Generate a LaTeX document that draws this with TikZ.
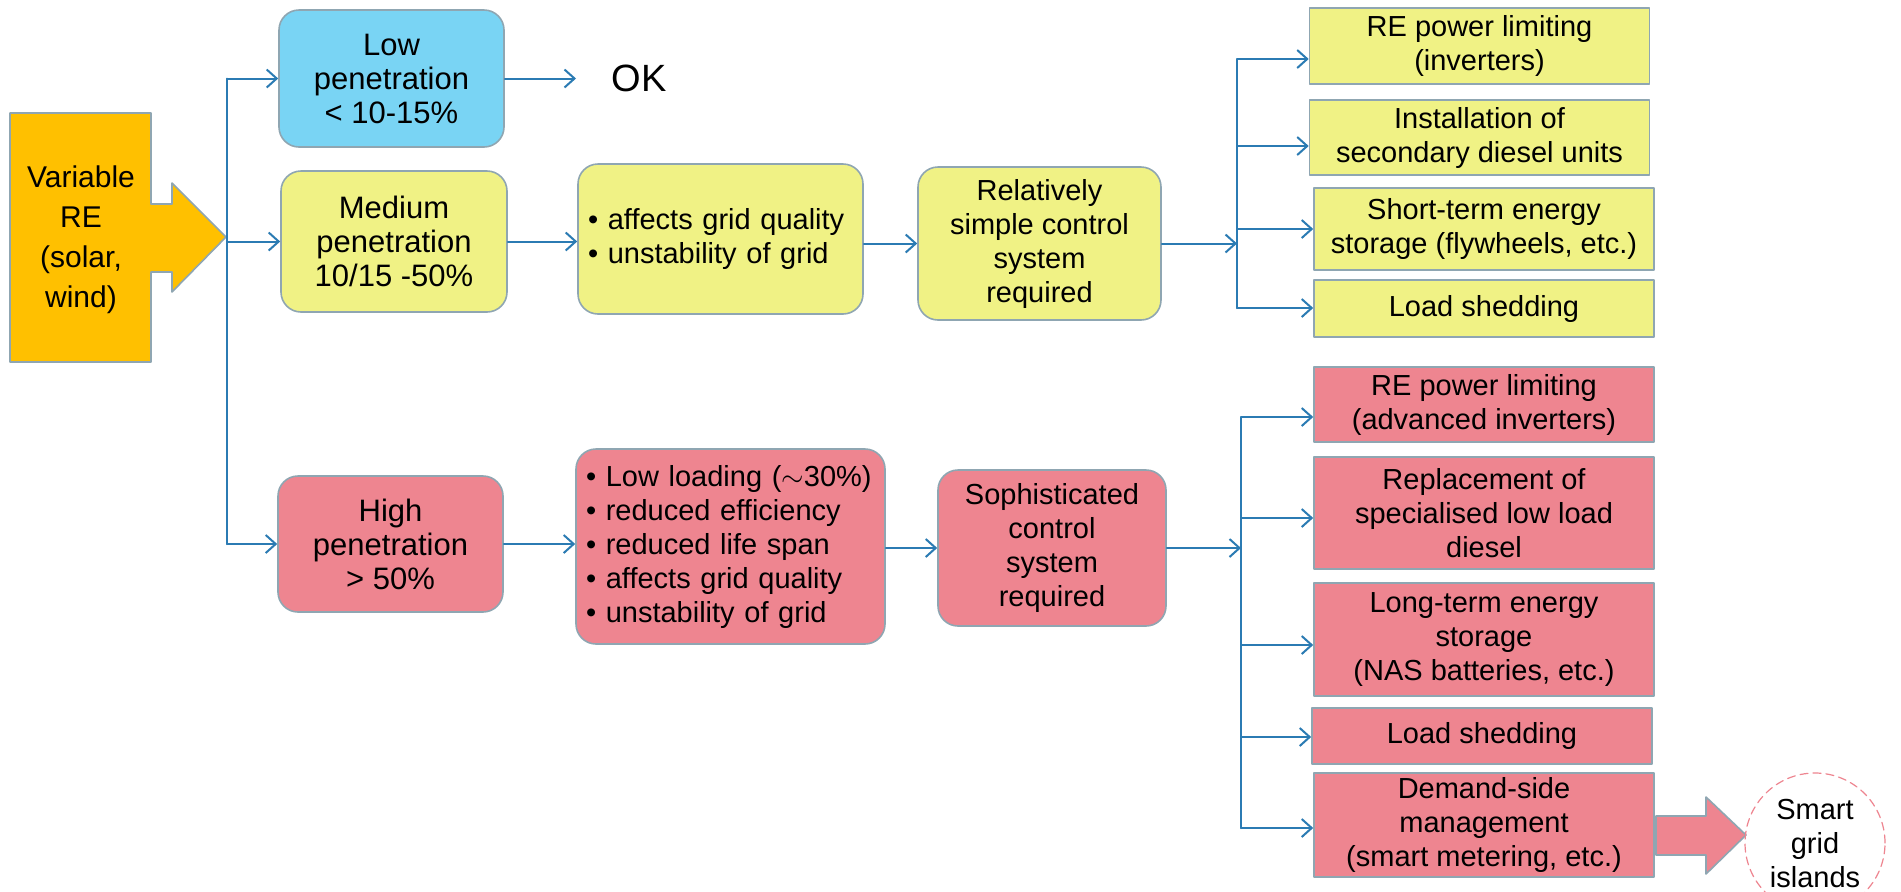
\documentclass[tikz,border=0pt]{standalone}
\usepackage{fontspec}
\setmainfont{Liberation Sans}
\usetikzlibrary{arrows.meta,shapes.geometric}
\definecolor{FlowBlue}{HTML}{2B7BB3}
\definecolor{EdgeGray}{HTML}{8FA6B2}
\definecolor{SrcOrange}{HTML}{FFC000}
\definecolor{LowBlue}{HTML}{79D4F4}
\definecolor{MedYellow}{HTML}{F0F285}
\definecolor{HighRed}{HTML}{EE8590}

\begin{document}
\begin{tikzpicture}[x=0.5pt,y=-0.5pt,line cap=round,line join=round,
  font=\fontsize{14.5}{17}\selectfont,
  conn/.style={FlowBlue,line width=1pt,-{Straight Barb[length=5pt,width=9pt]}},
  bus/.style={FlowBlue,line width=1pt},
  rbox/.style={draw=EdgeGray,line width=0.8pt,rounded corners=10pt,align=center,inner sep=2pt},
  pbox/.style={rbox,font=\fontsize{15.5}{17}\selectfont},
  fxbox/.style={rbox,align=left,inner xsep=5pt},
  sbox/.style={draw=EdgeGray,line width=0.8pt,align=center,inner sep=1pt,minimum width=170pt}]
  \fill[white] (0,0) rectangle (1901,891);
  \useasboundingbox (0,0) rectangle (1901,891);
  % source arrow
  \filldraw[fill=SrcOrange,draw=EdgeGray,line width=0.8pt] (10,113)--(151,113)--(151,204)--(172,204)--(172,183)
    --(226,237)--(172,292)--(172,272)--(151,272)--(151,362)--(10,362)--cycle;
  \node[align=center,font=\fontsize{15}{20}\selectfont] (src) at (81,240) {Variable\\RE\\(solar,\\wind)};
  % penetration levels
  \node[pbox,fill=LowBlue,minimum width=112.5pt,minimum height=68.5pt] (lowp) at (391.5,78.5) {Low\\penetration\\< 10-15\%};
  \node[pbox,fill=MedYellow,minimum width=113pt,minimum height=70.5pt] (medp) at (394,241.5) {Medium\\penetration\\10/15 -50\%};
  \node[pbox,fill=HighRed,minimum width=112.5pt,minimum height=68pt] (highp) at (390.5,544) {High\\penetration\\> 50\%};
  \node[font=\fontsize{19}{22}\selectfont] (ok) at (639,78) {OK};\coordinate (okin) at (576,78.5);
  % effects and control
  \node[fxbox,fill=MedYellow,text width=132.5pt,minimum height=75pt] (medfx) at (720.5,239) {• affects grid quality\\• unstability of grid};
  \node[rbox,fill=MedYellow,minimum width=121.5pt,minimum height=76.5pt] (medctl) at (1039.5,243.5) {Relatively\\simple control\\system\\required};
  \node[fxbox,fill=HighRed,text width=144.5pt,minimum height=97.5pt] (highfx) at (730.5,546.5)
    {• Low loading ($\sim$30\%)\\• reduced efficiency\\• reduced life span\\• affects grid quality\\• unstability of grid};
  \node[rbox,fill=HighRed,minimum width=114pt,minimum height=78pt] (highctl) at (1052,548) {Sophisticated\\control\\system\\required};
  % measures, medium
  \node[sbox,fill=MedYellow,minimum height=38pt] (ym1) at (1479.5,46) {RE power limiting\\(inverters)};
  \node[sbox,fill=MedYellow,minimum height=37.5pt] (ym2) at (1479.5,137.5) {Installation of\\secondary diesel units};
  \node[sbox,fill=MedYellow,minimum height=41pt] (ym3) at (1484,229) {Short-term energy\\storage (flywheels, etc.)};
  \node[sbox,fill=MedYellow,minimum height=28.5pt] (ym4) at (1484,308.5) {Load shedding};
  % measures, high
  \node[sbox,fill=HighRed,minimum height=37.5pt] (rm1) at (1484,404.5) {RE power limiting\\(advanced inverters)};
  \node[sbox,fill=HighRed,minimum height=56pt] (rm2) at (1484,513) {Replacement of\\specialised low load\\diesel};
  \node[sbox,fill=HighRed,minimum height=56.5pt] (rm3) at (1484,639.5) {Long-term energy\\storage\\(NAS batteries, etc.)};
  \node[sbox,fill=HighRed,minimum height=28pt] (rm4) at (1482,736) {Load shedding};
  \node[sbox,fill=HighRed,minimum height=52pt] (rm5) at (1484,825) {Demand-side\\management\\(smart metering, etc.)};
  \filldraw[fill=HighRed,draw=EdgeGray,line width=0.8pt] (1656,816)--(1706,816)--(1706,797)--(1746,835)
    --(1706,874)--(1706,855)--(1656,855)--cycle;
  \begin{scope}
    \clip (0,0) rectangle (1901,891);
    \node[draw=HighRed,dash pattern=on 4pt off 2.5pt,line width=0.6pt,circle,minimum size=70pt,
      align=center,inner sep=0pt] (smart) at (1815,843) {Smart\\grid\\islands};
  \end{scope}
  % connectors
  \coordinate (b1top) at (227,78.5);\coordinate (b1bot) at (227,544);\coordinate (srctip) at (227,241.5);
  \draw[bus] (b1top) -- (b1bot);
  \draw[conn] (b1top) -- (lowp.west);
  \draw[conn] (srctip) -- (medp.west);
  \draw[conn] (b1bot) -- (b1bot -| highp.west);
  \draw[conn] (lowp.east) -- (okin);
  \draw[conn] (medp.east) -- (medp.east -| medfx.west);
  \draw[conn] (medctl.west -| medfx.east) -- (medctl.west);
  \draw[conn] (highp.east) -- (highp.east -| highfx.west);
  \draw[conn] (highctl.west -| highfx.east) -- (highctl.west);
  \foreach \n/\y in {ym1/59,ym2/146,ym3/229,ym4/308}{
    \coordinate (j\n) at (1237,\y);
    \draw[conn] (j\n) -- (j\n -| \n.west);}
  \draw[bus] (jym1) -- (jym4);
  \draw[conn] (medctl.east) -- (medctl.east -| jym1);
  \foreach \n/\y in {rm1/417,rm2/518,rm3/645,rm4/737,rm5/828}{
    \coordinate (j\n) at (1241,\y);
    \draw[conn] (j\n) -- (j\n -| \n.west);}
  \draw[bus] (jrm1) -- (jrm5);
  \draw[conn] (highctl.east) -- (highctl.east -| jrm1);
\end{tikzpicture}
\end{document}
